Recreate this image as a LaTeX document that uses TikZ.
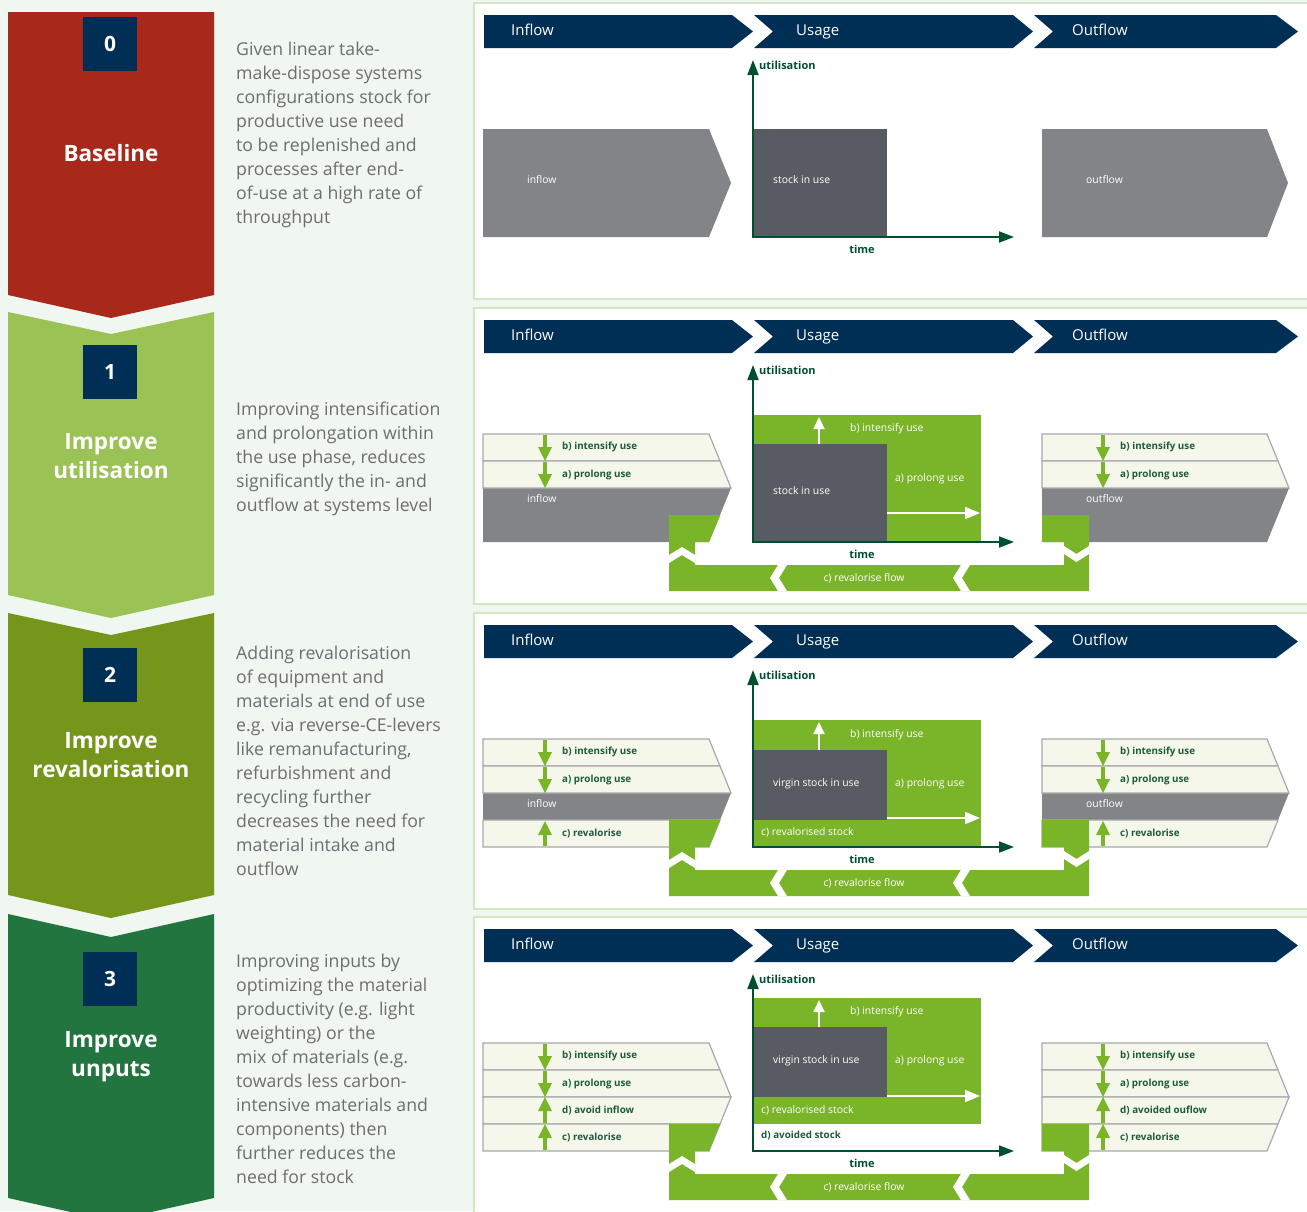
\documentclass[tikz,border=0pt]{standalone}
\usepackage{fontspec}
\setmainfont{Open Sans}
\usetikzlibrary{arrows.meta}
\definecolor{bgc}{HTML}{F0F6F0}
\definecolor{redc}{HTML}{A8281A}
\definecolor{lgc}{HTML}{9BC254}
\definecolor{olc}{HTML}{76961B}
\definecolor{dgc}{HTML}{22753F}
\definecolor{navyc}{HTML}{002F56}
\definecolor{grayc}{HTML}{838488}
\definecolor{stockc}{HTML}{595B63}
\definecolor{greenc}{HTML}{7AB428}
\definecolor{creamc}{HTML}{F4F7EA}
\definecolor{stripec}{HTML}{A8A9AD}
\definecolor{axisc}{HTML}{00502F}
\definecolor{labc}{HTML}{1D5C3A}
\definecolor{descc}{HTML}{6D6E71}
\definecolor{panelc}{HTML}{D5E6C4}

% header chevrons of one row
\newcommand\RowHeader[1]{%
  \fill[navyc] (484,15) -- (732,15) -- (753,31.5) -- (732,48) -- (484,48) -- cycle;
  \fill[navyc] (754,15) -- (1013,15) -- (1033,31.5) -- (1013,48) -- (754,48) -- (773,31.5) -- cycle;
  \fill[navyc] (1034,15) -- (1276,15) -- (1298,31.5) -- (1276,48) -- (1034,48) -- (1053,31.5) -- cycle;
  \node[hdr] (hin#1) at (511,35.5) {Inflow};
  \node[hdr] (hus#1) at (796,35.5) {Usage};
  \node[hdr] (hout#1) at (1072,35.5) {Outflow};
}
% axes of one row
\newcommand\RowAxis[1]{%
  \coordinate (org#1) at (753,237);
  \coordinate (ytip#1) at (753,60);
  \coordinate (xtip#1) at (1014,237);
  \draw[axisline] (ytip#1) -- (org#1) -- (xtip#1);
  \node[axlab,anchor=west] (util#1) at (759,65) {utilisation};
  \node[axlab] (time#1) at (862,249) {time};
}
% stripes of an inflow/outflow block: #1 left x, #2 corner x, #3 style
\newcommand\StA[3]{\filldraw[#3] (#1,129) -- (#2,129) -- ({#2+11},156) -- (#1,156) -- cycle;}
\newcommand\StB[3]{\filldraw[#3] (#1,156) -- ({#2+11},156) -- ({#2+22},183) -- (#1,183) -- cycle;}
\newcommand\StC[3]{\filldraw[#3] (#1,183) -- ({#2+22},183) -- ({#2+11},210) -- (#1,210) -- cycle;}
\newcommand\StD[3]{\filldraw[#3] (#1,210) -- ({#2+11},210) -- (#2,237) -- (#1,237) -- cycle;}
\newcommand\StCD[3]{\filldraw[#3] (#1,183) -- ({#2+22},183) -- (#2,237) -- (#1,237) -- cycle;}
% small green arrows: #1 x, #2 top y, #3 bottom y
\newcommand\DnArr[3]{\fill[greenc] ({#1-1.6},#2) rectangle ({#1+1.6},{#3-12});
  \fill[greenc] ({#1-7},{#3-14}) -- ({#1+7},{#3-14}) -- (#1,#3) -- cycle;}
\newcommand\UpArr[3]{\fill[greenc] ({#1-1.6},{#2+12}) rectangle ({#1+1.6},#3);
  \fill[greenc] ({#1-7},{#2+14}) -- ({#1+7},{#2+14}) -- (#1,#2) -- cycle;}
% revalorisation loop
\newcommand\RowLoop[1]{%
  \fill[greenc] (669,210) -- (720.4,210) -- (709,237) -- (695,237) -- (695,260) -- (1064,260)
     -- (1064,237) -- (1042,237) -- (1042,210) -- (1089,210) -- (1089,286) -- (669,286) -- cycle;
  \fill[white] (669,250) -- (682,242) -- (695,250) -- (695,258) -- (682,250) -- (669,258) -- cycle;
  \fill[white] (1064,241) -- (1076.5,249) -- (1089,241) -- (1089,249) -- (1076.5,257) -- (1064,249) -- cycle;
  \fill[white] (778,260) -- (787,260) -- (779,273) -- (787,286) -- (778,286) -- (770,273) -- cycle;
  \fill[white] (961,260) -- (970,260) -- (962,273) -- (970,286) -- (961,286) -- (953,273) -- cycle;
  \node[wlab,anchor=center] (rflow#1) at (864,273) {c) revalorise flow};
}

\begin{document}
\begin{tikzpicture}[x=1pt,y=-1pt,
  hdr/.style={anchor=base west,text=white,inner sep=0pt,font=\fontsize{15}{18}\selectfont},
  axisline/.style={draw=axisc,line width=1.8pt,{Triangle[length=15pt,width=11pt]}-{Triangle[length=15pt,width=11pt]}},
  axlab/.style={text=axisc,inner sep=0pt,font=\bfseries\fontsize{11}{13}\selectfont},
  slab/.style={anchor=west,text=labc,inner sep=0pt,font=\bfseries\fontsize{9.8}{11}\selectfont},
  wlab/.style={anchor=west,text=white,inner sep=0pt,font=\fontsize{10.4}{12}\selectfont},
  stripe/.style={fill=creamc,draw=stripec,line width=1.2pt},
  gstripe/.style={fill=grayc,draw=none},
  desc/.style={anchor=north west,align=left,text=descc,inner sep=0pt,font=\fontsize{17.7}{24}\selectfont},
  numbox/.style={fill=navyc,text=white,minimum size=54pt,inner sep=0pt,font=\bfseries\fontsize{21}{24}\selectfont},
  title/.style={text=white,align=center,inner sep=0pt,font=\bfseries\fontsize{22.5}{29}\selectfont},
  warr/.style={draw=white,line width=1.6pt,-{Triangle[length=15pt,width=12pt]}},
  wup/.style={draw=white,line width=2pt,-{Triangle[length=12pt,width=11pt]}},
]
\useasboundingbox (0,0) rectangle (1307,1211);
\fill[bgc] (0,0) rectangle (1307,1211);

% ---------- left chevrons ----------
\fill[redc] (8,12) -- (214,12) -- (214,295) -- (111,318) -- (8,295) -- cycle;
\fill[lgc] (8,312) -- (111,334) -- (214,312) -- (214,595) -- (111,618) -- (8,595) -- cycle;
\fill[olc] (8,613) -- (111,635) -- (214,613) -- (214,895) -- (111,918) -- (8,895) -- cycle;
\fill[dgc] (8,914) -- (111,937) -- (214,914) -- (214,1198) -- (111,1221) -- (8,1198) -- cycle;

\node[numbox] (n0) at (110,44) {0};
\node[numbox] (n1) at (110,372) {1};
\node[numbox] (n2) at (110,675) {2};
\node[numbox] (n3) at (110,979) {3};

\node[title] (t0) at (111,153) {Baseline};
\node[title] (t1) at (111,456) {Improve\\utilisation};
\node[title] (t2) at (111,755) {Improve\\revalorisation};
\node[title] (t3) at (111,1057) {Improve\\unputs};

% ---------- descriptions ----------
\node[desc] (d0) at (236,42) {Given linear take-\\make-dispose systems\\configurations stock for\\productive use need\\to be replenished and\\processes after end-\\of-use at a high rate of\\throughput};
\node[desc] (d1) at (236,402) {Improving intensification\\and prolongation within\\the use phase, reduces\\significantly the in- and\\outflow at systems level};
\node[desc] (d2) at (236,646) {Adding revalorisation\\of equipment and\\materials at end of use\\e.g. via reverse-CE-levers\\like remanufacturing,\\refurbishment and\\recycling further\\decreases the need for\\material intake and\\outflow};
\node[desc] (d3) at (236,954) {Improving inputs by\\optimizing the material\\productivity (e.g. light\\weighting) or the\\mix of materials (e.g.\\towards less carbon-\\intensive materials and\\components) then\\further reduces the\\need for stock};

% ---------- panels ----------
\filldraw[fill=white,draw=panelc,line width=1.3pt] (474,3) rectangle (1312,299);
\filldraw[fill=white,draw=panelc,line width=1.3pt] (474,308) rectangle (1312,604);
\filldraw[fill=white,draw=panelc,line width=1.3pt] (474,613) rectangle (1312,909);
\filldraw[fill=white,draw=panelc,line width=1.3pt] (474,917) rectangle (1312,1216);

% ---------- row 0 ----------
\RowHeader{0}
\fill[grayc] (483,129) -- (709,129) -- (731,183) -- (709,237) -- (483,237) -- cycle;
\fill[grayc] (1042,129) -- (1267,129) -- (1288,183) -- (1267,237) -- (1042,237) -- cycle;
\fill[stockc] (753,129) rectangle (887,237);
\node[wlab] (in0) at (527,180) {inflow};
\node[wlab] (out0) at (1086,180) {outflow};
\node[wlab] (st0) at (773,180) {stock in use};
\RowAxis{0}

% ---------- row 1 ----------
\begin{scope}[yshift=-305pt]
\RowHeader{1}
\StCD{483}{709}{gstripe}\StA{483}{709}{stripe}\StB{483}{709}{stripe}
\StCD{1042}{1267}{gstripe}\StA{1042}{1267}{stripe}\StB{1042}{1267}{stripe}
\DnArr{545}{130}{156}\DnArr{545}{157}{183}
\DnArr{1103}{130}{156}\DnArr{1103}{157}{183}
\node[slab] (ib1) at (562,142) {b) intensify use};
\node[slab] (ia1) at (562,169.5) {a) prolong use};
\node[slab] (ob1) at (1120,142) {b) intensify use};
\node[slab] (oa1) at (1120,169.5) {a) prolong use};
\node[wlab] (in1) at (527,194) {inflow};
\node[wlab] (out1) at (1086,194) {outflow};
\RowLoop{1}
\fill[greenc] (753,110) rectangle (981,237);
\fill[stockc] (753,139) rectangle (887,237);
\node[wlab] (st1) at (773,186) {stock in use};
\node[wlab] (ui1) at (850,124) {b) intensify use};
\node[wlab] (up1) at (895,174) {a) prolong use};
\coordinate (ua1) at (819,139); \coordinate (ub1) at (819,112);
\draw[wup] (ua1) -- (ub1);
\coordinate (ra1) at (887,208); \coordinate (rb1) at (980,208);
\draw[warr] (ra1) -- (rb1);
\RowAxis{1}
\end{scope}

% ---------- row 2 ----------
\begin{scope}[yshift=-610pt]
\RowHeader{2}
\StC{483}{709}{gstripe}\StA{483}{709}{stripe}\StB{483}{709}{stripe}\StD{483}{709}{stripe}
\StC{1042}{1267}{gstripe}\StA{1042}{1267}{stripe}\StB{1042}{1267}{stripe}\StD{1042}{1267}{stripe}
\DnArr{545}{130}{156}\DnArr{545}{157}{183}\UpArr{545}{211}{236}
\DnArr{1103}{130}{156}\DnArr{1103}{157}{183}\UpArr{1103}{211}{236}
\node[slab] (ib2) at (562,142) {b) intensify use};
\node[slab] (ia2) at (562,169.5) {a) prolong use};
\node[slab] (ic2) at (562,223.5) {c) revalorise};
\node[slab] (ob2) at (1120,142) {b) intensify use};
\node[slab] (oa2) at (1120,169.5) {a) prolong use};
\node[slab] (oc2) at (1120,223.5) {c) revalorise};
\node[wlab] (in2) at (527,194) {inflow};
\node[wlab] (out2) at (1086,194) {outflow};
\RowLoop{2}
\fill[greenc] (753,110) rectangle (981,237);
\fill[stockc] (753,140) rectangle (887,210);
\node[wlab] (st2) at (773,174) {virgin stock in use};
\node[wlab] (rs2) at (761,222) {c) revalorised stock};
\node[wlab] (ui2) at (850,125) {b) intensify use};
\node[wlab] (up2) at (895,174) {a) prolong use};
\coordinate (ua2) at (819,140); \coordinate (ub2) at (819,112);
\draw[wup] (ua2) -- (ub2);
\coordinate (ra2) at (887,208); \coordinate (rb2) at (980,208);
\draw[warr] (ra2) -- (rb2);
\RowAxis{2}
\end{scope}

% ---------- row 3 ----------
\begin{scope}[yshift=-914pt]
\RowHeader{3}
\StA{483}{709}{stripe}\StB{483}{709}{stripe}\StC{483}{709}{stripe}\StD{483}{709}{stripe}
\StA{1042}{1267}{stripe}\StB{1042}{1267}{stripe}\StC{1042}{1267}{stripe}\StD{1042}{1267}{stripe}
\DnArr{545}{130}{156}\DnArr{545}{157}{183}\UpArr{545}{183}{209}\UpArr{545}{210}{236}
\DnArr{1103}{130}{156}\DnArr{1103}{157}{183}\UpArr{1103}{183}{209}\UpArr{1103}{210}{236}
\node[slab] (ib3) at (562,142) {b) intensify use};
\node[slab] (ia3) at (562,169.5) {a) prolong use};
\node[slab] (id3) at (562,196.5) {d) avoid inflow};
\node[slab] (ic3) at (562,223.5) {c) revalorise};
\node[slab] (ob3) at (1120,142) {b) intensify use};
\node[slab] (oa3) at (1120,169.5) {a) prolong use};
\node[slab] (od3) at (1120,196.5) {d) avoided ouflow};
\node[slab] (oc3) at (1120,223.5) {c) revalorise};
\RowLoop{3}
\fill[greenc] (753,84) rectangle (981,210);
\fill[stockc] (753,113) rectangle (887,183);
\node[wlab] (st3) at (773,147) {virgin stock in use};
\node[wlab] (rs3) at (761,196) {c) revalorised stock};
\node[slab] (as3) at (761,222) {d) avoided stock};
\node[wlab] (ui3) at (850,98) {b) intensify use};
\node[wlab] (up3) at (895,147) {a) prolong use};
\coordinate (ua3) at (819,113); \coordinate (ub3) at (819,86);
\draw[wup] (ua3) -- (ub3);
\coordinate (ra3) at (887,182); \coordinate (rb3) at (980,182);
\draw[warr] (ra3) -- (rb3);
\RowAxis{3}
\end{scope}
\end{tikzpicture}
\end{document}
